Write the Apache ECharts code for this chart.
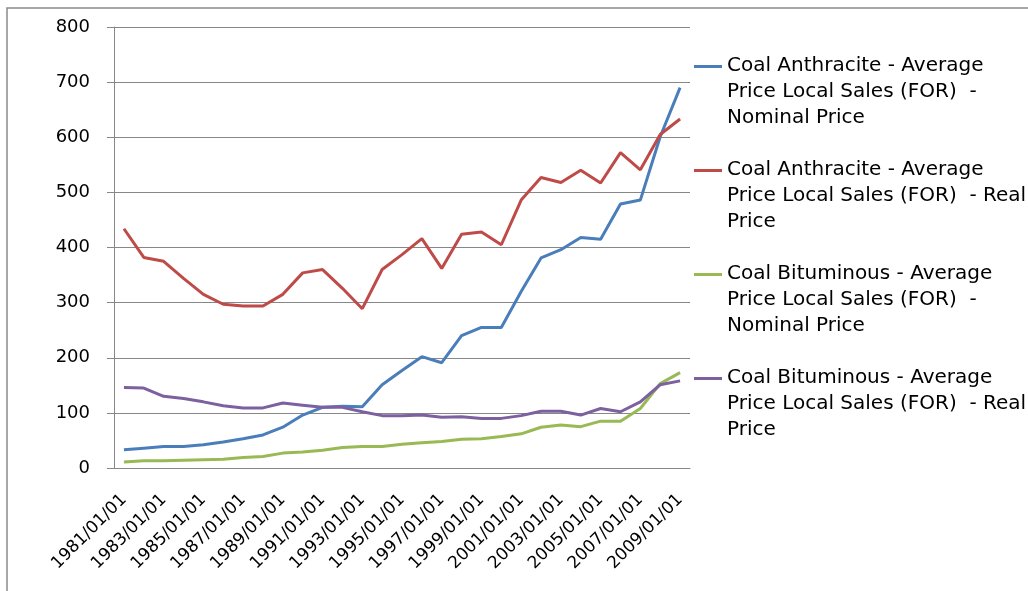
<!DOCTYPE html>
<html>
<head>
<meta charset="utf-8">
<script src="https://cdn.jsdelivr.net/npm/echarts@6/dist/echarts.min.js"></script>
<style>
  html, body { margin: 0; padding: 0; background: #fff; }
  #chart { width: 1028px; height: 591px; }
</style>
</head>
<body>
<div id="chart"></div>
<script>
const categories = [
  "1981/01/01", "1982/01/01", "1983/01/01", "1984/01/01", "1985/01/01",
  "1986/01/01", "1987/01/01", "1988/01/01", "1989/01/01", "1990/01/01",
  "1991/01/01", "1992/01/01", "1993/01/01", "1994/01/01", "1995/01/01",
  "1996/01/01", "1997/01/01", "1998/01/01", "1999/01/01", "2000/01/01",
  "2001/01/01", "2002/01/01", "2003/01/01", "2004/01/01", "2005/01/01",
  "2006/01/01", "2007/01/01", "2008/01/01", "2009/01/01"
];

const seriesNames = [
  "Coal Anthracite - Average\nPrice Local Sales (FOR)  -\nNominal Price",
  "Coal Anthracite - Average\nPrice Local Sales (FOR)  - Real\nPrice",
  "Coal Bituminous - Average\nPrice Local Sales (FOR)  -\nNominal Price",
  "Coal Bituminous - Average\nPrice Local Sales (FOR)  - Real\nPrice"
];

const anthraciteNominal = [33, 36, 39, 39, 42, 47, 53, 60, 74, 96, 110, 112, 111, 151, 177, 202, 191, 240, 255, 255, 320, 381, 396, 418, 415, 479, 486, 601, 690];
const anthraciteReal = [434, 382, 375, 344, 315, 297, 294, 294, 315, 354, 360, 326, 289, 360, 387, 416, 362, 424, 428, 405, 486, 527, 518, 540, 517, 572, 541, 605, 633];
const bituminousNominal = [11, 13, 13, 14, 15, 16, 19, 21, 27, 29, 32, 37, 39, 39, 43, 46, 48, 52, 53, 57, 62, 74, 78, 75, 85, 85, 108, 153, 173];
const bituminousReal = [146, 145, 130, 126, 120, 113, 109, 109, 118, 114, 110, 110, 102, 95, 95, 96, 92, 93, 90, 90, 95, 103, 103, 96, 108, 102, 120, 151, 158];

const colors = ["#4a7ebb", "#be4b48", "#98b954", "#7d60a0"];
const seriesData = [anthraciteNominal, anthraciteReal, bituminousNominal, bituminousReal];

const gridColor = "#878787";
const fontFamily = "DejaVu Sans";

const option = {
  animation: false,
  color: colors,
  textStyle: { fontFamily: fontFamily, color: "#000" },
  graphic: [
    {
      type: "rect",
      shape: { x: 7, y: 8, width: 1040, height: 600 },
      style: { fill: "none", stroke: "#8a8a8a", lineWidth: 1.5 },
      silent: true,
    },
  ],
  grid: {
    left: 114,
    right: 338,
    top: 27,
    bottom: 123,
  },
  legend: {
    orient: "vertical",
    left: 694,
    top: 1,
    padding: 0,
    itemGap: -26,
    itemWidth: 28,
    itemHeight: 14,
    icon: "path://M0,6 L28,6 L28,9 L0,9 Z M0,0 L0.01,0 Z M0,14 L0.01,14 Z",
    data: seriesNames,
    // two empty lines on top push the first real line level with the icon
    formatter: (name) => "\n\n" + name,
    textStyle: {
      fontFamily: fontFamily,
      fontSize: 20,
      lineHeight: 26,
      color: "#000",
    },
  },
  xAxis: {
    type: "category",
    data: categories,
    boundaryGap: true,
    axisLine: { lineStyle: { color: gridColor, width: 1 } },
    axisTick: { interval: 0, length: 6, lineStyle: { color: gridColor } },
    axisLabel: {
      interval: 1,
      rotate: 45,
      margin: 29,
      fontFamily: fontFamily,
      fontSize: 17,
      color: "#000",
    },
  },
  yAxis: {
    type: "value",
    min: 0,
    max: 800,
    interval: 100,
    axisLine: { show: true, lineStyle: { color: gridColor, width: 1 } },
    axisTick: { show: true, length: 7, lineStyle: { color: gridColor } },
    axisLabel: {
      margin: 24,
      fontFamily: fontFamily,
      fontSize: 18,
      color: "#000",
    },
    splitLine: { lineStyle: { color: gridColor, width: 1 } },
  },
  series: seriesNames.map((name, i) => ({
    name: name,
    type: "line",
    data: seriesData[i],
    showSymbol: false,
    symbol: "none",
    lineStyle: { width: 3, color: colors[i] },
    itemStyle: { color: colors[i] },
  })),
};

const myChart = echarts.init(document.getElementById("chart"));
myChart.setOption(option);
</script>
</body>
</html>
